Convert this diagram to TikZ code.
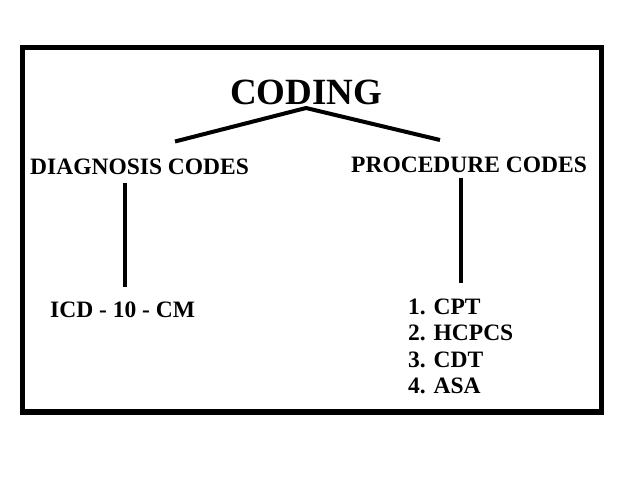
\documentclass[tikz,border=0pt]{standalone}
\usepackage{fontspec}
\setmainfont{Liberation Serif}
\usepackage{tikz}

\begin{document}
\begin{tikzpicture}[
		x=1pt, y=-1pt,
		every node/.style={inner sep=0pt, font=\bfseries\fontsize{23.5}{26}\selectfont},
		title/.style={font=\bfseries\fontsize{37}{40}\selectfont},
		branch/.style={line width=4pt, line join=round}
	]
  \useasboundingbox (0,0) rectangle (625,500);
  \draw [line width=5pt] (22.5,47.5) rectangle (601.5,412);
  \node (coding) [title, anchor=base west] at (230,105) {CODING};
  \node (diag) [anchor=base west] at (30,175) {DIAGNOSIS CODES};
  \node (proc) [anchor=base west] at (351,173) {PROCEDURE CODES};
  \node (icd) [anchor=base west] at (50,318) {ICD - 10 - CM};
  \node (cpt) [anchor=base west] at (408,315) {1. CPT};
  \node (hcpcs) [anchor=base west] at (408,341) {2. HCPCS};
  \node (cdt) [anchor=base west] at (408,367) {3. CDT};
  \node (asa) [anchor=base west] at (408,393) {4. ASA};
  \coordinate (apex) at (306,108);
  \coordinate (diag_in) at (175,141.5);
  \coordinate (proc_in) at (440,140);
  \coordinate (diag_out) at (125,183);
  \coordinate (icd_in) at (125,287);
  \coordinate (proc_out) at (461,178);
  \coordinate (cpt_in) at (461,283);
  \draw [branch] (diag_in) -- (apex) -- (proc_in);
  \draw [branch] (diag_out) -- (icd_in);
  \draw [branch] (proc_out) -- (cpt_in);
\end{tikzpicture}
\end{document}
